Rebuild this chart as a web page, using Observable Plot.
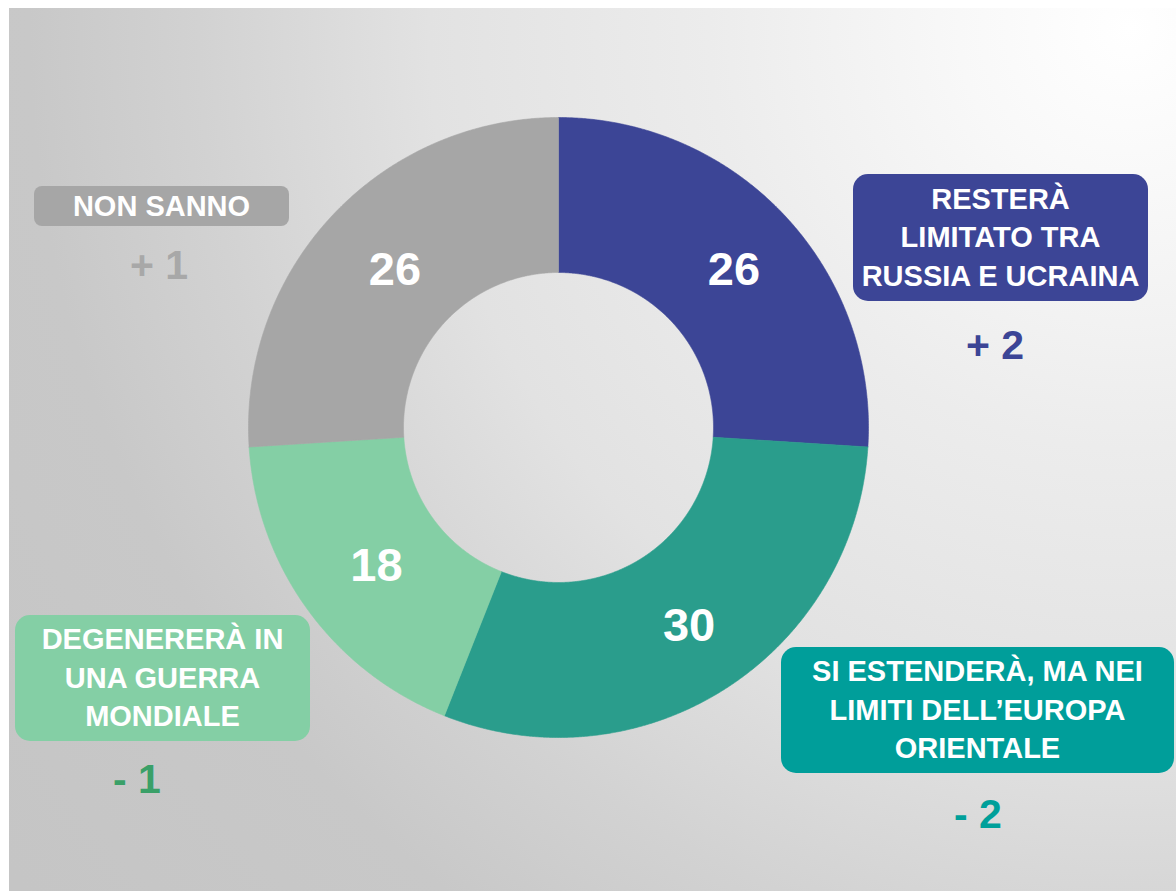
<!DOCTYPE html>
<html>
<head>
<meta charset="utf-8">
<script src="https://cdn.jsdelivr.net/npm/d3@7"></script>
<script src="https://cdn.jsdelivr.net/npm/@observablehq/plot@0.6"></script>
<style>
  html, body { margin: 0; padding: 0; background: #ffffff; }
  #wrap { position: relative; width: 1176px; height: 891px; overflow: hidden; font-family: "Liberation Sans", Arial, sans-serif; }
  #bg { position: absolute; left: 9px; top: 8px; right: 0; bottom: 0;
        background: radial-gradient(circle at 1120px 20px, #ffffff 0px, #f8f8f8 170px, #ececec 420px, #e2e2e2 700px, #d2d2d2 930px, #c8c8c8 1100px, #c5c5c5 1400px); }
  #chart { position: absolute; left: 0; top: 0; }
  .box { position: absolute; display: flex; align-items: center; justify-content: center; text-align: center;
         color: #ffffff; font-weight: bold; white-space: pre-line; box-sizing: border-box; }
  .delta { position: absolute; transform: translate(-50%, -50%); font-weight: bold; line-height: 1; white-space: nowrap; }
</style>
</head>
<body>
<div id="wrap">
  <div id="bg"></div>
  <div id="chart"></div>
</div>
<script>
// ---- data ----
const categories = [
  "RESTERÀ\nLIMITATO TRA\nRUSSIA E UCRAINA",
  "SI ESTENDERÀ, MA NEI\nLIMITI DELL’EUROPA\nORIENTALE",
  "DEGENERERÀ IN\nUNA GUERRA\nMONDIALE",
  "NON SANNO"
];
const values = [26, 30, 18, 26];
const deltas = ["+ 2", "- 2", "- 1", "+ 1"];

// ---- styles ----
const sliceColors = ["#3c4596", "#2a9d8c", "#84cfa5", "#a6a6a6"];
const boxColors   = ["#3c4596", "#009e9a", "#84cfa5", "#a6a6a6"];
const deltaColors = ["#3c4596", "#00a09a", "#3aa068", "#a8a8a8"];

// layout (pixels) for callouts
const boxLayout = [
  {left: 853, top: 174, width: 295, height: 127, radius: 15, font: 29, lh: 38.5},
  {left: 781, top: 647, width: 393, height: 126, radius: 15, font: 29, lh: 38.5},
  {left: 15,  top: 615, width: 295, height: 126, radius: 15, font: 29, lh: 38.5},
  {left: 34,  top: 186, width: 255, height: 40,  radius: 8,  font: 29, lh: 40}
];
const deltaLayout = [
  {cx: 995, cy: 345}, {cx: 978, cy: 814}, {cx: 137, cy: 779}, {cx: 159, cy: 265}
];

// ---- geometry via d3.pie ----
const W = 1176, H = 891, CX = 558, CY = 427, R = 310;
const innerRatio = 0.5;
const slices = values.map((v, i) => ({cat: categories[i], value: v, i}));
const pie = d3.pie().sort(null).value(d => d.value)(slices);

const ring = [];
pie.forEach(p => {
  const cat = p.data.cat;
  const n = Math.max(8, Math.ceil((p.endAngle - p.startAngle) / 0.005));
  const pts = [];
  for (let k = 0; k <= n; k++) {
    const a = p.startAngle + (p.endAngle - p.startAngle) * k / n;
    pts.push({cat, x: Math.sin(a), y: Math.cos(a)});
  }
  for (let k = n; k >= 0; k--) {
    const a = p.startAngle + (p.endAngle - p.startAngle) * k / n;
    pts.push({cat, x: innerRatio * Math.sin(a), y: innerRatio * Math.cos(a)});
  }
  pts.push(pts[0]);
  ring.push(...pts);
});

const centroids = pie.map(p => {
  const a = (p.startAngle + p.endAngle) / 2, r = (1 + innerRatio) / 2;
  return {cat: p.data.cat, value: p.data.value, x: r * Math.sin(a), y: r * Math.cos(a)};
});

const plot = Plot.plot({
  width: W, height: H,
  margin: 0,
  style: {background: "transparent", overflow: "visible"},
  x: {domain: [-CX / R, (W - CX) / R], axis: null},
  y: {domain: [-(H - CY) / R, CY / R], axis: null},
  color: {domain: categories, range: sliceColors},
  marks: [
    Plot.line(ring, {x: "x", y: "y", z: "cat", fill: "cat", stroke: "cat", strokeWidth: 0.6, curve: "linear"}),
    Plot.text(centroids, {
      x: "x", y: "y", text: d => String(d.value),
      fill: "white", fontSize: 47, fontWeight: "bold",
      fontFamily: "Liberation Sans, Arial, sans-serif",
      dx: 6, dy: 2
    })
  ]
});
document.getElementById("chart").appendChild(plot);

// ---- callouts ----
const wrap = document.getElementById("wrap");
categories.forEach((c, i) => {
  const L = boxLayout[i];
  const b = document.createElement("div");
  b.className = "box";
  Object.assign(b.style, {
    left: L.left + "px", top: L.top + "px", width: L.width + "px", height: L.height + "px",
    borderRadius: L.radius + "px", background: boxColors[i],
    fontSize: L.font + "px", lineHeight: L.lh + "px"
  });
  b.textContent = c;
  wrap.appendChild(b);

  const D = deltaLayout[i];
  const d = document.createElement("div");
  d.className = "delta";
  Object.assign(d.style, {left: D.cx + "px", top: D.cy + "px", color: deltaColors[i], fontSize: "41px"});
  d.textContent = deltas[i];
  wrap.appendChild(d);
});
</script>
</body>
</html>
